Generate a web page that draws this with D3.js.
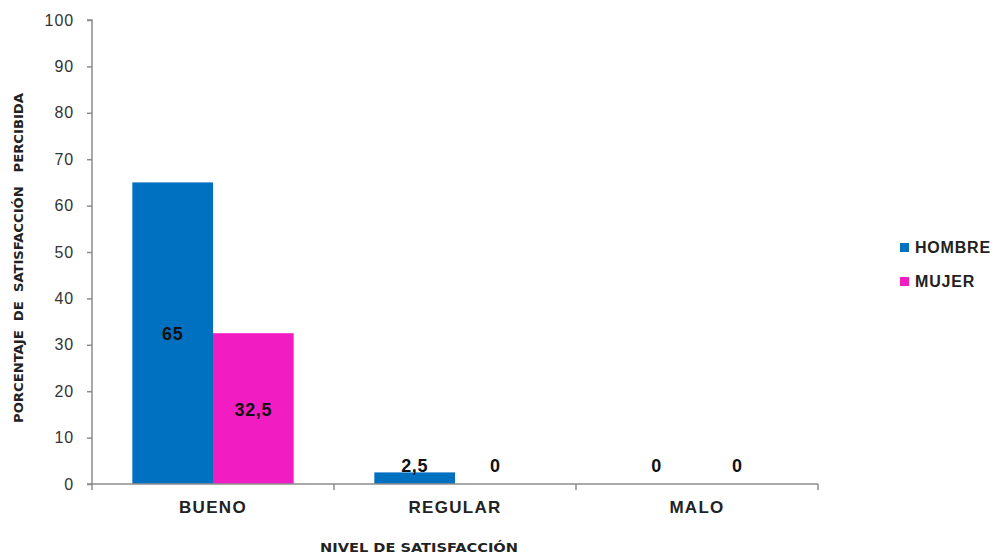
<!DOCTYPE html>
<html><head><meta charset="utf-8">
<script src="https://cdn.jsdelivr.net/npm/d3@7"></script>
<style>body{margin:0;background:#fff}</style>
</head><body>
<svg id="c" width="999" height="555"></svg>
<script>
const categories = ["BUENO", "REGULAR", "MALO"];
const seriesNames = ["HOMBRE", "MUJER"];
const hombre = [65, 2.5, 0];
const mujer = [32.5, 0, 0];
const yTicks = [0,10,20,30,40,50,60,70,80,90,100];
const colors = ["#0070C0", "#F21DC2"];

const svg = d3.select("#c");
const mLeft = 92, mRight = 818, mTop = 20, mBottom = 484;
const FONT = "Liberation Sans, Arial, sans-serif";
const x = d3.scaleBand().domain(categories).range([mLeft, mRight]).paddingInner(0).paddingOuter(0);
const y = d3.scaleLinear().domain([0,100]).range([mBottom, mTop]);
const inner = d3.scaleBand().domain(seriesNames).range([0, x.bandwidth()]).paddingInner(0).paddingOuter(0.5);

const data = categories.map((c,i)=>({cat:c, vals:[hombre[i], mujer[i]]}));

// bars
const g = svg.append("g");
data.forEach(d=>{
  d.vals.forEach((v,j)=>{
    if (v>0) g.append("rect")
      .attr("x", x(d.cat)+inner(seriesNames[j]))
      .attr("y", y(v))
      .attr("width", inner.bandwidth())
      .attr("height", y(0)-y(v))
      .attr("fill", colors[j]);
  });
});

// y axis
const yAxis = d3.axisLeft(y).tickValues(yTicks).tickSize(5).tickPadding(13);
const ya = svg.append("g").attr("transform",`translate(${mLeft},0)`).call(yAxis);
ya.select(".domain").attr("stroke","#8c8c8c").attr("stroke-width",1.5).attr("d",`M-5,${mTop}H0V${mBottom}H-5`);
ya.selectAll(".tick line").attr("stroke","#8c8c8c").attr("stroke-width",1.5);
ya.selectAll(".tick text").attr("font-family",FONT).attr("font-size",16).attr("letter-spacing","0.9px").attr("fill","#333");

// x axis
const xa = svg.append("g").attr("transform",`translate(0,${mBottom})`);
xa.append("line").attr("x1",mLeft).attr("x2",mRight).attr("stroke","#8c8c8c").attr("stroke-width",1.5);
const xt = [mLeft, ...categories.map(c=>x(c)+x.bandwidth())];
xt.forEach(t=>xa.append("line").attr("x1",t).attr("x2",t).attr("y1",0).attr("y2",6).attr("stroke","#8c8c8c").attr("stroke-width",1.5));
categories.forEach(c=>xa.append("text").attr("x",x(c)+x.bandwidth()/2).attr("y",29)
  .attr("text-anchor","middle").attr("font-family",FONT)
  .attr("font-weight","bold").attr("font-size",17).attr("letter-spacing","1.3px").attr("fill","#222").text(c));

// data labels
data.forEach(d=>{
  d.vals.forEach((v,j)=>{
    const cx = x(d.cat)+inner(seriesNames[j])+inner.bandwidth()/2;
    const big = (y(0)-y(v)) > 30;
    const cy = big ? (y(v)+y(0))/2 + 7 : 472;
    svg.append("text").attr("x",cx).attr("y", cy)
      .attr("text-anchor","middle").attr("font-family",FONT)
      .attr("font-weight","bold").attr("font-size",18).attr("letter-spacing","0.6px").attr("fill","#111")
      .text(String(v).replace(".",","));
  });
});

// axis titles
svg.append("text").attr("transform","translate(23,258) rotate(-90)")
  .attr("text-anchor","middle").attr("font-family","DejaVu Sans Condensed, DejaVu Sans, sans-serif")
  .attr("font-weight","bold").attr("font-size",12).attr("fill","#222")
  .attr("textLength",330).attr("lengthAdjust","spacingAndGlyphs")
  .style("white-space","pre").text("PORCENTAJE  DE  SATISFACCIÓN   PERCIBIDA");
svg.append("text").attr("x",419).attr("y",552)
  .attr("text-anchor","middle").attr("font-family","DejaVu Sans Condensed, DejaVu Sans, sans-serif")
  .attr("font-weight","bold").attr("font-size",12.5).attr("fill","#222")
  .attr("textLength",198).attr("lengthAdjust","spacingAndGlyphs")
  .text("NIVEL DE SATISFACCIÓN");

// legend
seriesNames.forEach((s,i)=>{
  const ly = 243 + i*34;
  svg.append("rect").attr("x",900).attr("y",ly).attr("width",9).attr("height",9).attr("fill",colors[i]);
  svg.append("text").attr("x",915).attr("y",ly+10).attr("font-family",FONT)
    .attr("font-weight","bold").attr("font-size",16).attr("letter-spacing","0.8px").attr("fill","#222").text(s);
});
</script>
</body></html>
